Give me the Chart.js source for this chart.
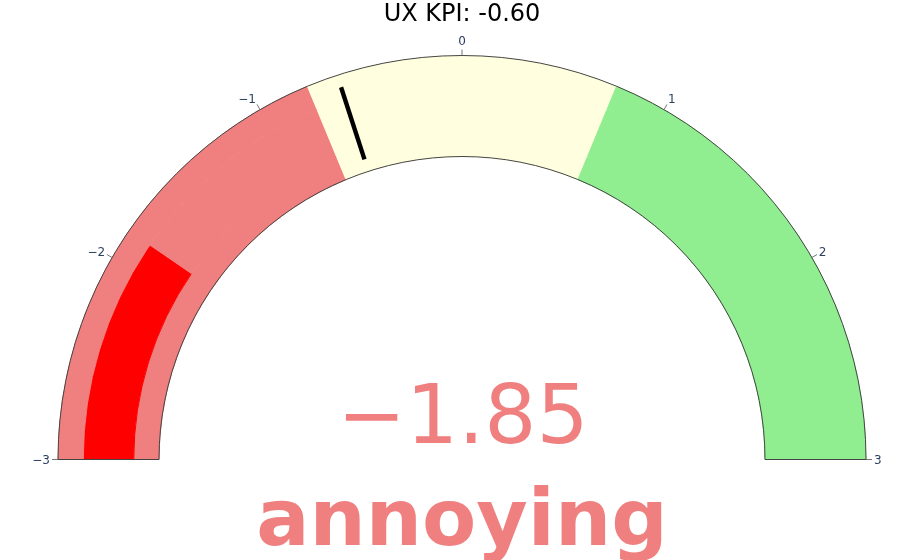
<!DOCTYPE html>
<html>
<head>
<meta charset="utf-8">
<script src="https://cdn.jsdelivr.net/npm/chart.js@4.4.1/dist/chart.umd.min.js"></script>
<style>
html,body{margin:0;padding:0;background:#fff;}
#wrap{width:924px;height:560px;position:relative;}
</style>
</head>
<body>
<div id="wrap"><canvas id="c" width="924" height="560"></canvas></div>
<script>
// ---- data ----
const titleText = 'UX KPI: -0.60';
const gaugeMin = -3;
const gaugeMax = 3;
const stepBounds = [-3, -0.75, 0.75, 3];
const stepColors = ['#F08080', '#FFFFE0', '#90EE90'];
const gaugeValue = -1.85;
const valueText = '\u22121.85';
const valueLabel = 'annoying';
const barColor = '#FF0000';
const thresholdValue = -0.6;
const tickValues = [-3, -2, -1, 0, 1, 2, 3];
const tickLabels = ['\u22123', '\u22122', '\u22121', '0', '1', '2', '3'];

// ---- derived dataset arrays ----
const stepSizes = [];
for (let i = 0; i < stepBounds.length - 1; i++) stepSizes.push(stepBounds[i + 1] - stepBounds[i]);

const barSizes = [gaugeValue - gaugeMin];
const barColors = [barColor];
for (let i = 0; i < stepBounds.length - 1; i++) {
  const lo = Math.max(stepBounds[i], gaugeValue);
  const hi = stepBounds[i + 1];
  if (hi > lo) { barSizes.push(hi - lo); barColors.push(stepColors[i]); }
}

const FONT = '"DejaVu Sans", Verdana, sans-serif';

const gaugeDecor = {
  id: 'gaugeDecor',
  afterDatasetsDraw(chart) {
    const ctx = chart.ctx;
    const outerMeta = chart.getDatasetMeta(0);
    const innerMeta = chart.getDatasetMeta(2);
    const first = outerMeta.data[0];
    const last = outerMeta.data[outerMeta.data.length - 1];
    const cx = first.x, cy = first.y;
    const R = first.outerRadius;
    const Ri = innerMeta.data[0].innerRadius;
    const a0 = first.startAngle, a1 = last.endAngle;
    const ang = v => a0 + (v - gaugeMin) / (gaugeMax - gaugeMin) * (a1 - a0);

    ctx.save();
    // outline
    ctx.beginPath();
    ctx.arc(cx, cy, R, a0, a1);
    ctx.arc(cx, cy, Ri, a1, a0, true);
    ctx.closePath();
    ctx.strokeStyle = '#444';
    ctx.lineWidth = 1;
    ctx.stroke();

    // threshold
    const thick = R - Ri;
    const mid = (R + Ri) / 2;
    const ta = ang(thresholdValue);
    ctx.beginPath();
    ctx.moveTo(cx + Math.cos(ta) * (mid - thick * 0.375), cy + Math.sin(ta) * (mid - thick * 0.375));
    ctx.lineTo(cx + Math.cos(ta) * (mid + thick * 0.375), cy + Math.sin(ta) * (mid + thick * 0.375));
    ctx.strokeStyle = '#000';
    ctx.lineWidth = 4.4;
    ctx.lineCap = 'butt';
    ctx.stroke();

    // ticks
    const fs = 12;
    ctx.font = fs + 'px ' + FONT;
    ctx.fillStyle = '#2a3f5f';
    ctx.textBaseline = 'alphabetic';
    tickValues.forEach((v, i) => {
      const a = ang(v);
      const c = Math.cos(a), s = Math.sin(a);
      ctx.beginPath();
      ctx.moveTo(cx + c * R, cy + s * R);
      ctx.lineTo(cx + c * (R + 6), cy + s * (R + 6));
      ctx.strokeStyle = '#777';
      ctx.lineWidth = 1;
      ctx.stroke();
      const rr = R + 8;
      ctx.textAlign = Math.abs(c) < 0.1 ? 'center' : (c > 0 ? 'left' : 'right');
      const x = cx + c * rr;
      const y = cy + s * rr + s * 2.5 + Math.abs(c) * fs * 0.35;
      ctx.fillText(tickLabels[i], x, y);
    });

    // number + label
    ctx.fillStyle = '#F08080';
    ctx.textAlign = 'center';
    ctx.textBaseline = 'alphabetic';
    ctx.font = '82px ' + FONT;
    ctx.fillText(valueText, cx + 1, cy - 17);
    ctx.font = 'bold 79px ' + FONT;
    ctx.fillText(valueLabel, cx, cy + 85);
    ctx.restore();
  }
};

new Chart(document.getElementById('c'), {
  type: 'doughnut',
  data: {
    labels: barSizes.map((_, i) => 'seg' + i),
    datasets: [
      { data: stepSizes, backgroundColor: stepColors, borderColor: stepColors, weight: 1 },
      { data: barSizes, backgroundColor: barColors, borderColor: barColors, weight: 2 },
      { data: stepSizes, backgroundColor: stepColors, borderColor: stepColors, weight: 1 }
    ]
  },
  options: {
    responsive: false,
    animation: false,
    rotation: -90,
    circumference: 180,
    cutout: '75%',
    elements: { arc: { borderWidth: 1 } },
    layout: { padding: { top: 0, left: 57, right: 57, bottom: 100 } },
    plugins: {
      legend: { display: false },
      tooltip: { enabled: false },
      title: {
        display: true,
        text: titleText,
        color: '#000',
        font: { family: FONT, size: 24, weight: 'normal' },
        padding: { top: 0, bottom: 26.2 }
      }
    }
  },
  plugins: [gaugeDecor]
});
</script>
</body>
</html>
